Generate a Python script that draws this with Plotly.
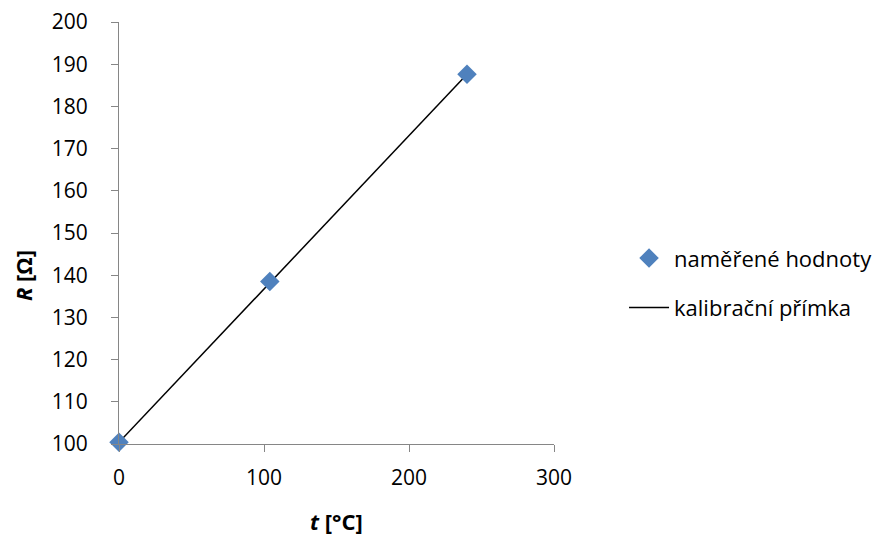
import plotly.graph_objects as go

# measured data
t_meas = [0, 104, 240]
R_meas = [100.4, 138.5, 187.6]

# calibration line
t_line = [0, 240]
R_line = [100.4, 187.6]

x_ticks = [0, 100, 200, 300]
y_ticks = [100, 110, 120, 130, 140, 150, 160, 170, 180, 190, 200]

x_title = "<b><i>t</i> [°C]</b>"
y_title = "<b><i>R</i> [Ω]</b>"

FONT = "Open Sans"
AXC = "#868686"

fig = go.Figure()
fig.add_trace(go.Scatter(
    x=t_line, y=R_line, mode="lines", name="kalibrační přímka",
    line=dict(color="black", width=1.5), legendgroup="b", legendrank=2))
fig.add_trace(go.Scatter(
    x=t_meas, y=R_meas, mode="markers", name="naměřené hodnoty",
    marker=dict(symbol="diamond", size=15, color="#4F81BD"),
    cliponaxis=False, legendgroup="a", legendrank=1))

fig.update_layout(
    width=883, height=535,
    margin=dict(l=111, r=337, t=14, b=99, autoexpand=False),
    paper_bgcolor="white", plot_bgcolor="white",
    font=dict(family=FONT, size=21, color="black"),
    legend=dict(x=1.161, y=0.381, xanchor="left", yanchor="middle",
                traceorder="grouped", tracegroupgap=18,
                itemwidth=40,
                font=dict(size=22)),
    xaxis=dict(range=[0, 300], tickvals=x_ticks, showgrid=False, zeroline=False,
               showline=True, linecolor=AXC, linewidth=1, automargin=False,
               ticks="outside", tickcolor=AXC, ticklen=7, ticklabelstandoff=8,
               ticklabeloverflow="allow"),
    yaxis=dict(range=[100, 200], tickvals=y_ticks, showgrid=False, zeroline=False,
               showline=True, linecolor=AXC, linewidth=1, automargin=False,
               ticks="outside", tickcolor=AXC, ticklen=7, ticklabelstandoff=19,
               ticklabeloverflow="allow"),
    annotations=[
        dict(text=x_title, xref="paper", yref="paper", x=0.5, y=-0.182,
             xanchor="center", yanchor="middle", showarrow=False,
             font=dict(size=22)),
        dict(text=y_title, xref="paper", yref="paper", x=-0.221, y=0.400,
             xanchor="center", yanchor="middle", showarrow=False, textangle=-90,
             font=dict(size=22)),
    ],
)

fig.write_html("out.html")
